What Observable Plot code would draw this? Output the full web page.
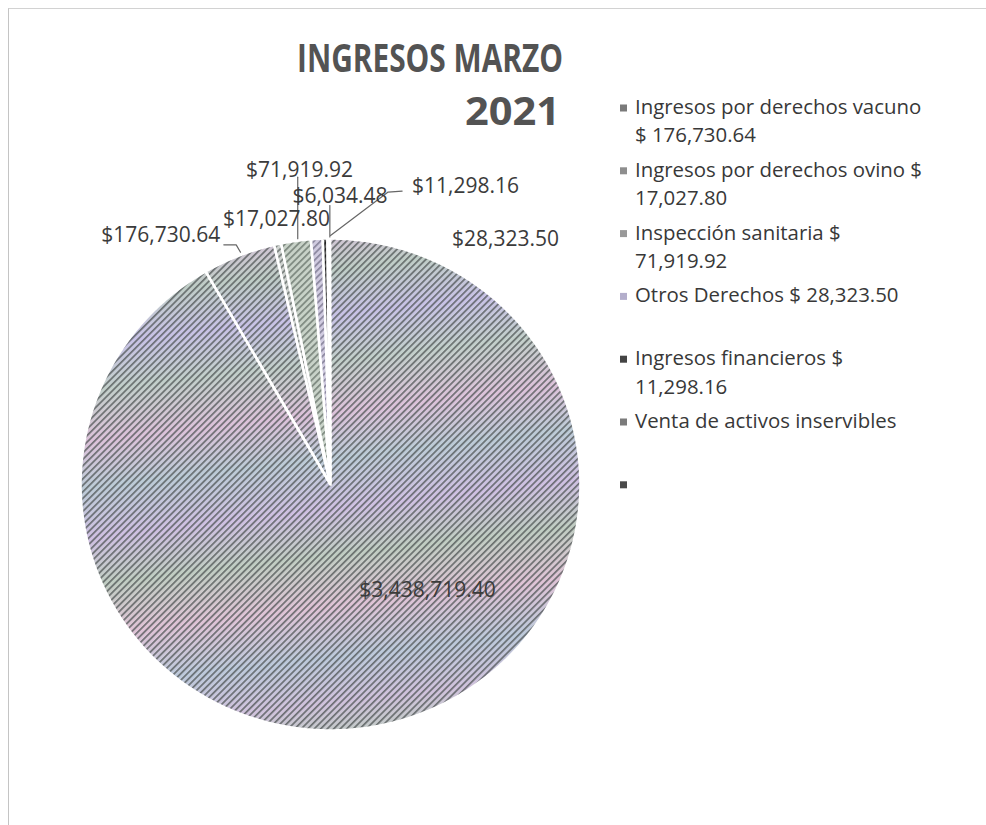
<!DOCTYPE html>
<html><head><meta charset="utf-8">
<script src="https://cdn.jsdelivr.net/npm/d3@7"></script>
<script src="https://cdn.jsdelivr.net/npm/@observablehq/plot@0.6"></script>
<style>
html,body{margin:0;padding:0;background:#fff;}
#wrap{position:relative;width:986px;height:825px;overflow:hidden;background:#fff;}
#frame{position:absolute;left:8px;top:8px;width:990px;height:830px;border-left:1px solid #c4c4c4;border-top:1px solid #d2d2d2;}
#chart{position:absolute;left:0;top:0;}
</style></head><body>
<svg width="0" height="0" style="position:absolute">
  <defs>
    <linearGradient id="g-moire" gradientUnits="userSpaceOnUse" x1="300" y1="232" x2="360" y2="735">
      <stop offset="0" stop-color="#d6c3d9"/>
      <stop offset="0.08" stop-color="#bfcdc6"/>
      <stop offset="0.17" stop-color="#c8c2e6"/>
      <stop offset="0.26" stop-color="#c2cfca"/>
      <stop offset="0.36" stop-color="#dcc2da"/>
      <stop offset="0.45" stop-color="#bccbd6"/>
      <stop offset="0.55" stop-color="#cfc0e2"/>
      <stop offset="0.64" stop-color="#c0cdc2"/>
      <stop offset="0.74" stop-color="#dfc3d6"/>
      <stop offset="0.84" stop-color="#bcc9da"/>
      <stop offset="0.93" stop-color="#d0c2dc"/>
      <stop offset="1" stop-color="#bfcbc3"/>
    </linearGradient>
    <pattern id="p-big" width="4.6" height="4.6" patternUnits="userSpaceOnUse" patternTransform="rotate(45)">
      <rect x="0" y="0" width="1.7" height="4.6" fill="#4a5050" fill-opacity="0.74"/>
    </pattern>
    <pattern id="p-ovi" width="4.6" height="4.6" patternUnits="userSpaceOnUse" patternTransform="rotate(45)">
      <rect width="4.6" height="4.6" fill="#cfd3d0"/><rect width="1.8" height="4.6" fill="#7c8380"/>
    </pattern>
    <pattern id="p-ins" width="4.6" height="4.6" patternUnits="userSpaceOnUse" patternTransform="rotate(45)">
      <rect width="4.6" height="4.6" fill="#c8d2c8"/><rect width="1.7" height="4.6" fill="#7d887f"/>
    </pattern>
    <pattern id="p-otr" width="4.6" height="4.6" patternUnits="userSpaceOnUse" patternTransform="rotate(45)">
      <rect width="4.6" height="4.6" fill="#d0cbe0"/><rect width="1.7" height="4.6" fill="#8a869d"/>
    </pattern>
    <pattern id="p-fin" width="4.6" height="4.6" patternUnits="userSpaceOnUse" patternTransform="rotate(45)">
      <rect width="4.6" height="4.6" fill="#5a5a5a"/><rect width="2.2" height="4.6" fill="#222"/>
    </pattern>
    <pattern id="p-ven" width="4.6" height="4.6" patternUnits="userSpaceOnUse" patternTransform="rotate(45)">
      <rect width="4.6" height="4.6" fill="#f2f2f2"/><rect width="1.2" height="4.6" fill="#d4d4d4"/>
    </pattern>
  </defs>
</svg>
<div id="wrap"><div id="frame"></div><div id="chart"></div></div>
<script>
// ---------- data ----------
const categories = ["Ingresos por derechos vacuno", "Ingresos por derechos ovino", "Inspección sanitaria", "Otros Derechos", "Ingresos financieros", "Venta de activos inservibles", ""];
const values = [176730.64, 17027.80, 71919.92, 28323.50, 11298.16, 6034.48, 3438719.40];
const valueLabels = ["$176,730.64", "$17,027.80", "$71,919.92", "$28,323.50", "$11,298.16", "$6,034.48", "$3,438,719.40"];
const legendLines = [
  ["Ingresos por derechos vacuno", "$ 176,730.64"],
  ["Ingresos por derechos ovino $", "17,027.80"],
  ["Inspección sanitaria $", "71,919.92"],
  ["Otros Derechos $ 28,323.50"],
  ["Ingresos financieros $", "11,298.16"],
  ["Venta de activos inservibles"],
  [""]
];
const titleLines = ["INGRESOS MARZO", "2021"];

// ---------- styles / layout ----------
const sliceFills = ["url(#p-big)", "url(#p-ovi)", "url(#p-ins)", "url(#p-otr)", "url(#p-fin)", "url(#p-ven)", "url(#p-big)"];
const swatchColors = ["#7a7a7a", "#8e8e8e", "#999999", "#b3aecb", "#444444", "#7b7b7b", "#4a4a4a"];
const W = 986, H = 825;
const pie = {cx: 330, cy: 484, rx: 250, ry: 246};
const firstSliceAngle = 330;
// label offsets (px) from each slice's outer mid-point
const labelOffsets = [[-78, -20], [-1, -24.6], [3.5, -70.4], [188.7, 0.6], [140.4, -52.6], [11.2, -42.5], null];
const bigLabel = {r: 0.5, dx: 64.5, dy: -13.5};
const leaderOffsets = {
  0: [[-15, -10.8], [-2.6, -10.8], [1.7, -3.4]],
  2: [[1.8, -63.7], [1.8, -2.1]],
  4: [[77, -47.4], [63, -46.5], [5.4, -3.1]],
  5: [[1.1, -33], [1.1, -1.5]]
};
const legendLayout = {markerX: 620, markerSize: 7, textX: 635, firstBaseline: 114, itemStep: 62.8, lineStep: 28.4, fontSize: 20.4};

// ---------- geometry from data ----------
const T = d3.sum(values);
let acc = 0;
const slices = values.map((v, i) => {
  const a0 = firstSliceAngle + acc / T * 360; acc += v;
  const a1 = firstSliceAngle + acc / T * 360;
  return {i, a0, a1, mid: (a0 + a1) / 2};
});
const rad = a => a * Math.PI / 180;
const polyPts = slices.flatMap(s => {
  const n = Math.max(2, Math.ceil((s.a1 - s.a0) / 0.4));
  const pts = [{i: s.i, x: 0, y: 0}];
  for (let k = 0; k <= n; k++) {
    const a = rad(s.a0 + (s.a1 - s.a0) * k / n);
    pts.push({i: s.i, x: Math.sin(a), y: Math.cos(a)});
  }
  return pts;
});
const edge = s => ({x: Math.sin(rad(s.mid)), y: Math.cos(rad(s.mid))});
const px2u = ([dx, dy], e) => ({x: e.x + dx / pie.rx, y: e.y - dy / pie.ry});

const labelData = slices.map(s => {
  if (labelOffsets[s.i]) {
    const p = px2u(labelOffsets[s.i], edge(s));
    return {x: p.x, y: p.y, text: valueLabels[s.i]};
  }
  const e = edge(s);
  const p = px2u([bigLabel.dx, bigLabel.dy], {x: e.x * bigLabel.r, y: e.y * bigLabel.r});
  return {x: p.x, y: p.y, text: valueLabels[s.i]};
});
const leaderPts = Object.entries(leaderOffsets).flatMap(([k, offs]) => {
  const e = edge(slices[+k]);
  return offs.map(o => ({k: +k, ...px2u(o, e)}));
});

const chart = Plot.plot({
  width: W, height: H, margin: 0,
  style: {fontFamily: "'Open Sans', sans-serif", background: "transparent", overflow: "visible"},
  x: {domain: [-1, 1], range: [pie.cx - pie.rx, pie.cx + pie.rx], axis: null},
  y: {domain: [-1, 1], range: [pie.cy + pie.ry, pie.cy - pie.ry], axis: null},
  color: {type: "ordinal", domain: d3.range(values.length), range: sliceFills},
  marks: [
    Plot.line(polyPts.filter(d => d.i === 0 || d.i === 6), {x: "x", y: "y", z: "i", fill: "url(#g-moire)", stroke: "none", curve: "linear-closed"}),
    Plot.line(polyPts, {x: "x", y: "y", z: "i", fill: "i", stroke: "white", strokeWidth: 2.6, strokeLinejoin: "round", curve: "linear-closed"}),
    Plot.line(leaderPts, {x: "x", y: "y", z: "k", stroke: "#666", strokeWidth: 1.2}),
    Plot.text(labelData, {x: "x", y: "y", text: "text", fontSize: 21, fill: "#3b3b3b", textAnchor: "middle"})
  ]
});
document.getElementById("chart").appendChild(chart);

// title & legend as text in the same svg
const svg = d3.select(chart);
const tg = svg.append("g").attr("font-family", "'Open Sans', sans-serif").attr("font-weight", 700).attr("font-size", 39).attr("fill", "#535353").attr("text-anchor", "start");
tg.append("text").attr("x", 297).attr("y", 72).attr("textLength", 266).attr("lengthAdjust", "spacingAndGlyphs").text(titleLines[0]);
tg.append("text").attr("x", 465).attr("y", 125).attr("textLength", 95).attr("lengthAdjust", "spacingAndGlyphs").text(titleLines[1]);

const L = legendLayout;
const lg = svg.append("g").attr("font-family", "'Open Sans', sans-serif").attr("font-size", L.fontSize).attr("fill", "#383838").attr("text-anchor", "start");
legendLines.forEach((lines, i) => {
  const base = L.firstBaseline + i * L.itemStep;
  lg.append("rect").attr("x", L.markerX).attr("y", base - 6 - L.markerSize / 2).attr("width", L.markerSize).attr("height", L.markerSize).attr("fill", swatchColors[i]);
  lines.forEach((t, j) => {
    if (t) lg.append("text").attr("x", L.textX).attr("y", base + j * L.lineStep).text(t);
  });
});
</script>
</body></html>
